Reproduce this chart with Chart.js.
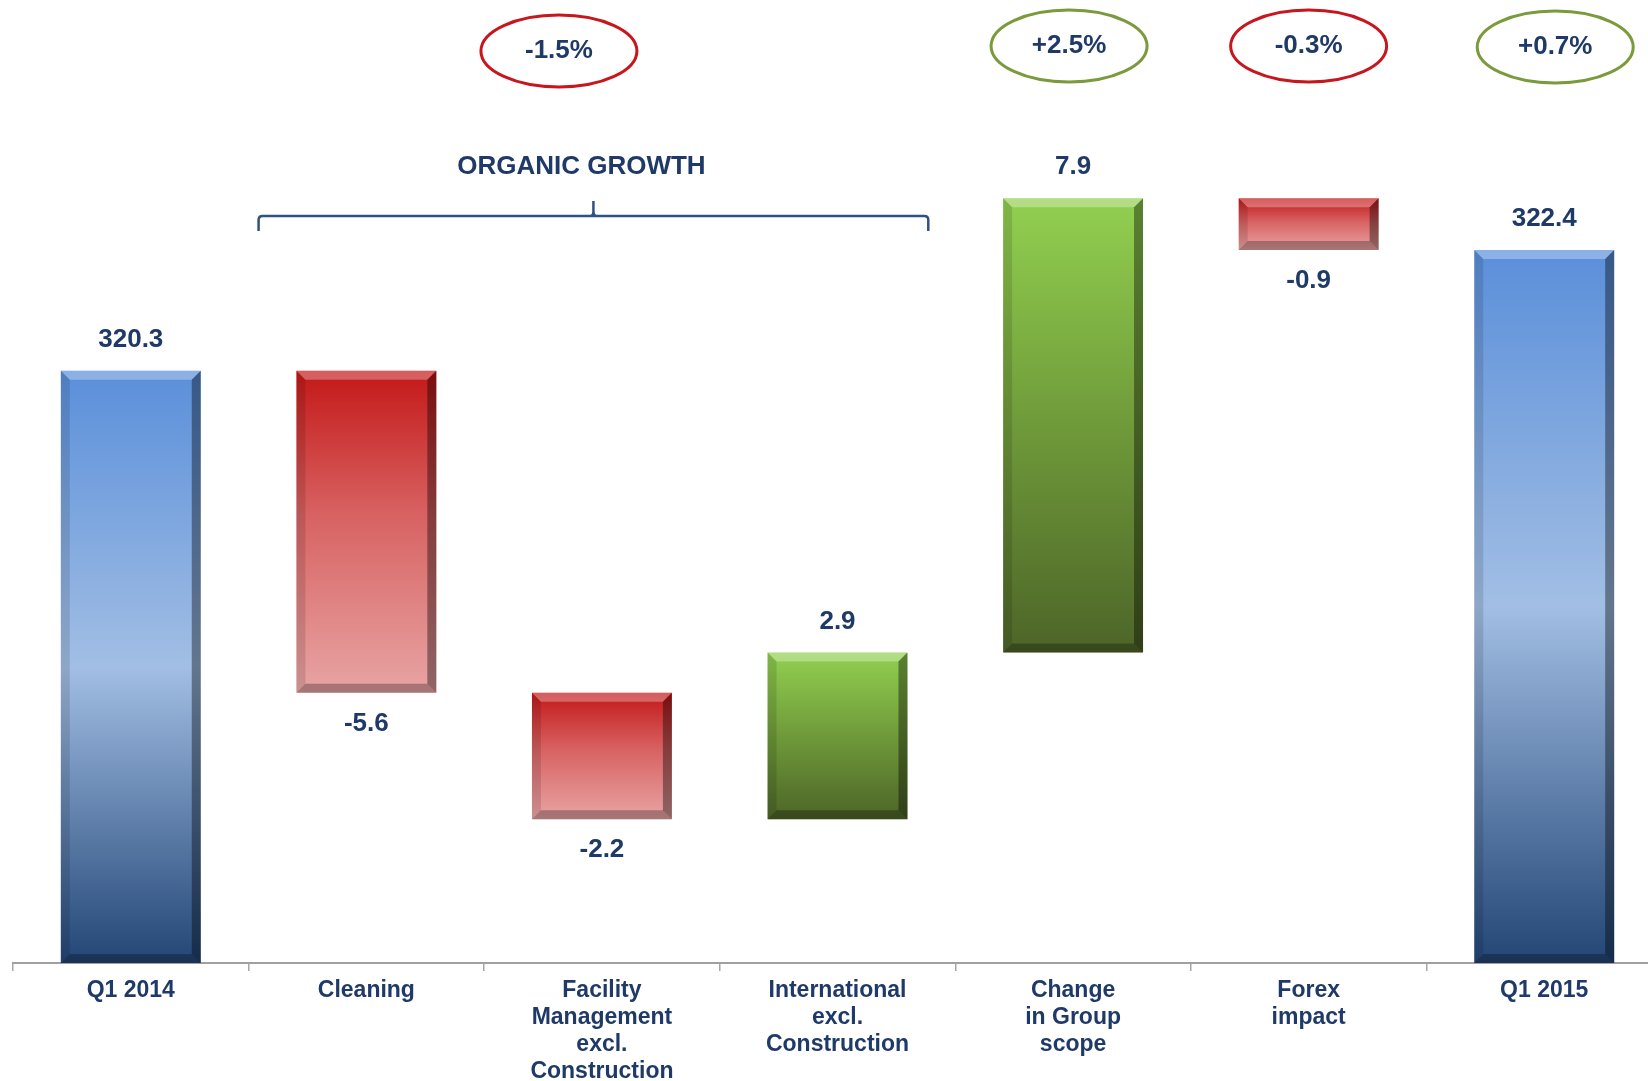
<!DOCTYPE html>
<html>
<head>
<meta charset="utf-8">
<script src="https://cdn.jsdelivr.net/npm/chart.js@4.4.1/dist/chart.umd.min.js"></script>
<style>
  html, body { margin: 0; padding: 0; background: #fff; overflow: hidden; }
  #wrap { position: absolute; left: 0; top: 0; width: 1680px; height: 1081px; }
</style>
</head>
<body>
<div id="wrap"><canvas id="bridgeChart" width="1680" height="1081"></canvas></div>
<script>
// data
const categories = [
    ['Q1 2014'],
    ['Cleaning'],
    ['Facility', 'Management', 'excl.', 'Construction'],
    ['International', 'excl.', 'Construction'],
    ['Change', 'in Group', 'scope'],
    ['Forex', 'impact'],
    ['Q1 2015']
];
const changes = [320.3, -5.6, -2.2, 2.9, 7.9, -0.9, 322.4];
const isTotal = [true, false, false, false, false, false, true];
const valueLabels = ['320.3', '-5.6', '-2.2', '2.9', '7.9', '-0.9', '322.4'];
const pctLabels = ['-1.5%', '+2.5%', '-0.3%', '+0.7%'];
const pctPositive = [false, true, false, true];
const axisMin = 310;
const axisMax = 326;

const navy = '#1F3A68';
const fontFamily = "'Liberation Sans', Arial, sans-serif";

// floating bars: totals start at axis bottom, deltas start at running total
const ranges = [];
let running = 0;
changes.forEach(function (v, i) {
    if (isTotal[i]) {
        ranges.push([axisMin, v]);
        running = v;
    } else {
        ranges.push([running, running + v]);
        running = running + v;
    }
});

function barFill(context) {
    const chart = context.chart;
    const i = context.dataIndex;
    const yScale = chart.scales.y;
    if (!yScale || !chart.chartArea || i === undefined) return '#888';
    const r = ranges[i];
    const top = yScale.getPixelForValue(Math.max(r[0], r[1]));
    const bot = yScale.getPixelForValue(Math.min(r[0], r[1]));
    if (!isFinite(top) || !isFinite(bot)) return '#888';
    const g = chart.ctx.createLinearGradient(0, top, 0, bot);
    if (isTotal[i]) {
        g.addColorStop(0, '#5A8FDA');
        g.addColorStop(0.5, '#A2BEE4');
        g.addColorStop(1, '#234676');
    } else if (changes[i] < 0) {
        g.addColorStop(0, '#C41818');
        g.addColorStop(0.45, '#D86262');
        g.addColorStop(1, '#E8A4A4');
    } else {
        g.addColorStop(0, '#92D050');
        g.addColorStop(0.5, '#6F9A3A');
        g.addColorStop(1, '#4D6528');
    }
    return g;
}

function poly(ctx, pts, fill) {
    ctx.beginPath();
    ctx.moveTo(pts[0][0], pts[0][1]);
    for (let k = 1; k < pts.length; k++) ctx.lineTo(pts[k][0], pts[k][1]);
    ctx.closePath();
    ctx.fillStyle = fill;
    ctx.fill();
}

// bevel edges + value labels on the bars
const barDecor = {
    id: 'barDecor',
    afterDatasetsDraw: function (chart) {
        const ctx = chart.ctx;
        const meta = chart.getDatasetMeta(0);
        ctx.save();
        meta.data.forEach(function (bar, i) {
            const p = bar.getProps(['x', 'y', 'base', 'width'], true);
            const l = p.x - p.width / 2, r = p.x + p.width / 2;
            const t = Math.min(p.y, p.base), b = Math.max(p.y, p.base);
            const d = Math.min(9, (b - t) / 3);
            poly(ctx, [[l, t], [r, t], [r - d, t + d], [l + d, t + d]], 'rgba(255,255,255,0.30)');
            poly(ctx, [[r, t], [r, b], [r - d, b - d], [r - d, t + d]], 'rgba(0,0,0,0.38)');
            poly(ctx, [[l, t], [l + d, t + d], [l + d, b - d], [l, b]], 'rgba(0,0,0,0.12)');
            poly(ctx, [[l, b], [l + d, b - d], [r - d, b - d], [r, b]], 'rgba(0,0,0,0.28)');

            ctx.font = 'bold 26px ' + fontFamily;
            ctx.fillStyle = navy;
            ctx.textAlign = 'center';
            ctx.textBaseline = 'middle';
            const ly = changes[i] < 0 ? b + 31 : t - 31;
            ctx.fillText(valueLabels[i], p.x, ly);
        });
        ctx.restore();
    }
};

// bracket, "ORGANIC GROWTH", and the circled percentages
const annotations = {
    id: 'annotations',
    afterDraw: function (chart) {
        const ctx = chart.ctx;
        const xs = chart.scales.x;
        const w = (xs.right - xs.left) / categories.length;
        ctx.save();

        // bracket over the organic items
        const bl = xs.left + w * 1 + 10;
        const br = xs.left + w * 4 - 27;
        const bm = (bl + br) / 2;
        const by = 216;
        ctx.strokeStyle = '#2F5283';
        ctx.lineWidth = 2.5;
        ctx.beginPath();
        ctx.moveTo(bl, by + 15);
        ctx.lineTo(bl, by + 4);
        ctx.quadraticCurveTo(bl, by, bl + 4, by);
        ctx.lineTo(br - 4, by);
        ctx.quadraticCurveTo(br, by, br, by + 4);
        ctx.lineTo(br, by + 15);
        ctx.moveTo(bm - 3, by);
        ctx.quadraticCurveTo(bm, by, bm, by - 4);
        ctx.lineTo(bm, by - 15);
        ctx.moveTo(bm + 3, by);
        ctx.quadraticCurveTo(bm, by, bm, by - 4);
        ctx.stroke();

        ctx.font = 'bold 26px ' + fontFamily;
        ctx.fillStyle = navy;
        ctx.textAlign = 'center';
        ctx.textBaseline = 'middle';
        ctx.fillText('ORGANIC GROWTH', bm - 12, 167);

        // circled percentages
        const spots = [
            { cat: 2, dx: -43, cy: 51 },
            { cat: 4, dx: -4, cy: 46 },
            { cat: 5, dx: 0, cy: 46 },
            { cat: 6, dx: 11, cy: 47 }
        ];
        spots.forEach(function (s, k) {
            const cx = xs.getPixelForValue(s.cat) + s.dx;
            ctx.beginPath();
            ctx.ellipse(cx, s.cy, 78, 36, 0, 0, Math.PI * 2);
            ctx.strokeStyle = pctPositive[k] ? '#7A9A3C' : '#C8161D';
            ctx.lineWidth = 3;
            ctx.stroke();
            ctx.fillStyle = navy;
            ctx.fillText(pctLabels[k], cx, s.cy);
        });
        ctx.restore();
    }
};

new Chart(document.getElementById('bridgeChart').getContext('2d'), {
    type: 'bar',
    data: {
        labels: categories,
        datasets: [{
            data: ranges,
            backgroundColor: barFill,
            borderWidth: 0,
            borderSkipped: false,
            barPercentage: 0.594,
            categoryPercentage: 1.0
        }]
    },
    options: {
        responsive: false,
        animation: false,
        layout: { padding: { left: 13, right: 18, top: 43, bottom: 0 } },
        plugins: {
            legend: { display: false },
            tooltip: { enabled: false }
        },
        scales: {
            x: {
                grid: {
                    offset: true,
                    drawOnChartArea: false,
                    drawTicks: true,
                    tickLength: 8,
                    color: '#A6A6A6',
                    lineWidth: 1.5
                },
                border: { display: true, color: '#A0A0A0', width: 2 },
                ticks: {
                    color: navy,
                    padding: 6,
                    maxRotation: 0,
                    autoSkip: false,
                    font: { family: fontFamily, size: 23, weight: 'bold', lineHeight: 1.17 }
                },
                afterFit: function (scale) { scale.height = 118; }
            },
            y: {
                display: false,
                min: axisMin,
                max: axisMax
            }
        }
    },
    plugins: [barDecor, annotations]
});
</script>
</body>
</html>
